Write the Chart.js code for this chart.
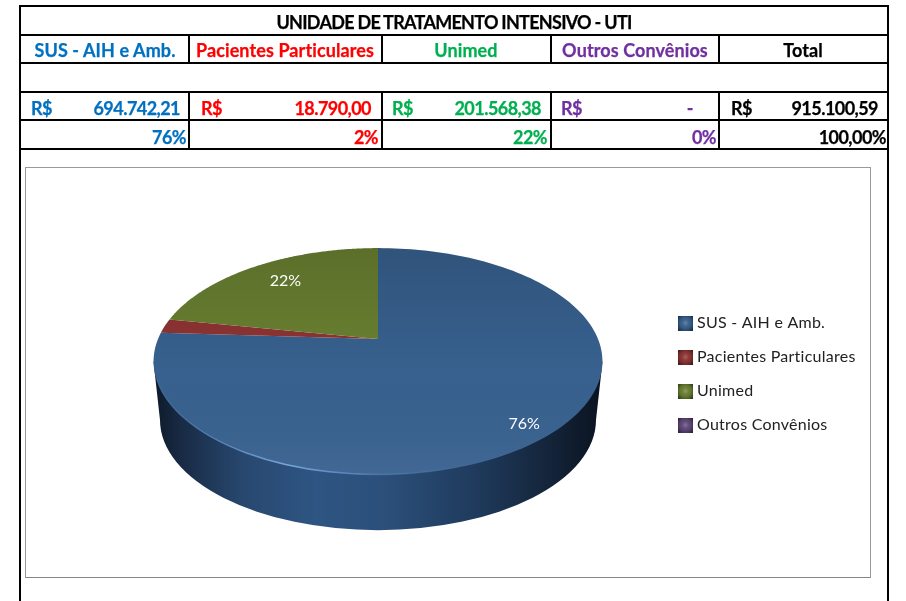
<!DOCTYPE html>
<html lang="pt-BR"><head><meta charset="utf-8">
<style>
html,body{margin:0;padding:0;background:#fff;width:906px;height:601px;overflow:hidden}
#page{position:relative;width:906px;height:601px;font-family:Lato,Carlito,sans-serif;font-weight:700}
.l{position:absolute;background:#000}
.t{position:absolute;white-space:nowrap;font-size:18px;line-height:24px;letter-spacing:-.55px;-webkit-text-stroke:.25px currentColor}
#frame{position:absolute;left:25px;top:167px;width:844px;height:409px;border:1px solid #9a9a9a;border-bottom-color:#858585;background:#fff}
canvas{position:absolute;left:0;top:0}
</style></head><body>
<div id="page"><div id="frame"></div><canvas id="c" width="906" height="601"></canvas></div>
<script src="https://cdn.jsdelivr.net/npm/chart.js@4/dist/chart.umd.js"></script>
<script>
const tableTitle = 'UNIDADE DE TRATAMENTO INTENSIVO - UTI';
const categories = ['SUS - AIH e Amb.', 'Pacientes Particulares', 'Unimed', 'Outros Convênios'];
const seriesValues = [694742.21, 18790.00, 201568.38, 0];
const valueTexts = ['694.742,21', '18.790,00', '201.568,38', '-'];
const percentTexts = ['76%', '2%', '22%', '0%'];
const totalHeader = 'Total';
const totalText = '915.100,59';
const totalPercent = '100,00%';
const currency = 'R$';
const textColors = ['#0070C0', '#FF0000', '#00B050', '#7030A0'];
const sliceColors = ['#38618F', '#8F3434', '#6A8131', '#60497A'];

/* ---------- table ---------- */
const page = document.getElementById('page');
function line(x, y, w, h) { const d = document.createElement('div'); d.className = 'l';
  d.style.cssText = `left:${x}px;top:${y}px;width:${w}px;height:${h}px`; page.insertBefore(d, page.firstChild); }
function text(s, color, y, opt) { const d = document.createElement('div'); d.className = 't'; d.textContent = s; d.style.color = color;
  d.style.top = y + 'px';
  if (opt.ls !== undefined) d.style.letterSpacing = opt.ls + 'px';
  if (opt.c !== undefined) { d.style.left = (opt.c - 200) + 'px'; d.style.width = '400px'; d.style.textAlign = 'center'; }
  if (opt.r !== undefined) { d.style.right = (906 - opt.r) + 'px'; }
  if (opt.l !== undefined) { d.style.left = opt.l + 'px'; }
  page.appendChild(d); }
line(19, 5, 2, 596); line(887, 5, 2, 596);
line(19, 5, 870, 2);
[34, 62, 91, 119, 148].forEach(y => line(19, y, 870, 2));
[188, 381, 550, 718].forEach(x => { line(x, 34, 2, 29); line(x, 91, 2, 58); });
const heads = [105, 285, 466, 635, 803];
const curL = [31, 201, 392, 561, 731];
const valR = [180, 371, 541, 693, 878];
const pctR = [186, 378, 547, 716, 886];
text(tableTitle, '#000', 10, { c: 454, ls: -0.72 });
categories.forEach((n, i) => {
  text(n, textColors[i], 38, { c: heads[i], ls: 0.1 });
  text(currency, textColors[i], 96, { l: curL[i] });
  text(valueTexts[i], textColors[i], 96, { r: valR[i] });
  text(percentTexts[i], textColors[i], 125, { r: pctR[i] });
});
text(totalHeader, '#000', 38, { c: heads[4], ls: 0.1 });
text(currency, '#000', 96, { l: curL[4] });
text(totalText, '#000', 96, { r: valR[4] });
text(totalPercent, '#000', 125, { r: pctR[4] });

/* ---------- tilted pie: the library computes angles, centre and radius ---------- */
const TILT = 0.495, PERSP = -0.198;
function project(el, a, rho) {
  const u = Math.cos(a) * rho, v = Math.sin(a) * rho, d = 1 + PERSP * v;
  return { x: el.x + el.outerRadius * u / d, y: el.y + el.outerRadius * TILT * v / d };
}
function rimEllipse(el) {
  return { cx: el.x, cy: el.y + el.outerRadius * 0.1023, rx: el.outerRadius * 1.0205, ry: el.outerRadius * 0.516 };
}
Chart.ArcElement.prototype.draw = function (ctx) {
  const el = this.getProps(['x', 'y', 'startAngle', 'endAngle', 'outerRadius'], true);
  if (this.endAngle - this.startAngle < 1e-4) return;
  const e = rimEllipse(el);
  ctx.save();
  ctx.beginPath();
  ctx.moveTo(el.x, el.y);
  const steps = 160;
  for (let i = 0; i <= steps; i++) {
    const p = project(el, el.startAngle + (el.endAngle - el.startAngle) * i / steps, 1);
    ctx.lineTo(p.x, p.y);
  }
  ctx.closePath();
  ctx.fillStyle = this.options.backgroundColor;
  ctx.fill();
  const g = ctx.createLinearGradient(0, e.cy - e.ry, 0, e.cy + e.ry);
  g.addColorStop(0, 'rgba(0,0,0,.14)');
  g.addColorStop(.55, 'rgba(0,0,0,0)');
  g.addColorStop(1, 'rgba(255,255,255,.05)');
  ctx.fillStyle = g;
  ctx.fill();
  ctx.restore();
};
const pie3d = {
  id: 'pie3d',
  afterLayout(chart) {
    const lg = chart.legend, h = lg.bottom - lg.top, w = lg.right - lg.left;
    lg.left = 664; lg.right = 664 + w; lg.top = 297; lg.bottom = 297 + h;
  },
  beforeDraw(chart) { chart.ctx.letterSpacing = '0.25px'; },
  beforeDatasetsDraw(chart) {
    const el = chart.getDatasetMeta(0).data[0], ctx = chart.ctx, e = rimEllipse(el);
    const scale = 0.971, drop = 58.5, rx2 = e.rx * scale, ry2 = e.ry * scale, cy2 = e.cy + drop;
    ctx.save();
    const g = ctx.createLinearGradient(e.cx - e.rx, 0, e.cx + e.rx, 0);
    [[0, '#0d1929'], [.06, '#182a44'], [.2, '#28486f'], [.36, '#2e5583'], [.52, '#2b4f79'], [.72, '#1f3a5c'], [.87, '#15263c'], [1, '#0a1320']]
      .forEach(s => g.addColorStop(s[0], s[1]));
    ctx.fillStyle = g;
    ctx.beginPath();
    ctx.moveTo(e.cx - e.rx, e.cy);
    ctx.lineTo(e.cx - rx2, cy2);
    ctx.ellipse(e.cx, cy2, rx2, ry2, 0, Math.PI, 0, true);
    ctx.lineTo(e.cx + e.rx, e.cy);
    ctx.closePath();
    ctx.fill();
    ctx.restore();
  },
  afterDatasetsDraw(chart) {
    const meta = chart.getDatasetMeta(0), ctx = chart.ctx, el = meta.data[0], e = rimEllipse(el);
    ctx.save();
    const g = ctx.createLinearGradient(e.cx - e.rx, 0, e.cx + e.rx, 0);
    g.addColorStop(0, 'rgba(110,160,220,.1)');
    g.addColorStop(.3, 'rgba(130,180,235,.85)');
    g.addColorStop(.5, 'rgba(110,160,220,.3)');
    g.addColorStop(.85, 'rgba(80,120,170,0)');
    ctx.strokeStyle = g; ctx.lineWidth = 1.5;
    ctx.beginPath();
    ctx.ellipse(e.cx, e.cy, e.rx - .5, e.ry - .5, 0, Math.PI * .95, Math.PI * .2, true);
    ctx.stroke();
    const total = seriesValues.reduce((a, b) => a + b, 0);
    ctx.letterSpacing = '0px';
    ctx.fillStyle = '#fff'; ctx.font = '400 16px Lato, sans-serif';
    ctx.textAlign = 'center'; ctx.textBaseline = 'middle';
    meta.data.forEach((arc, i) => {
      const share = seriesValues[i] / total;
      if (share < 0.05) return;
      const mid = (arc.startAngle + arc.endAngle) / 2;
      const p = project(arc, mid, 0.85);
      ctx.fillText(Math.round(share * 100) + '%', p.x + (i === 0 ? 0 : 13), p.y + (i === 0 ? 8 : 5));
    });
    ctx.restore();
  }
};
function swatch(color) {
  const c = document.createElement('canvas'); c.width = 15; c.height = 15;
  const x = c.getContext('2d');
  x.fillStyle = color; x.fillRect(0, 0, 15, 15);
  const g = x.createRadialGradient(7.5, 7.5, 1, 7.5, 7.5, 10);
  g.addColorStop(0, 'rgba(255,255,255,.18)'); g.addColorStop(.5, 'rgba(0,0,0,.05)'); g.addColorStop(1, 'rgba(0,0,0,.55)');
  x.fillStyle = g; x.fillRect(0, 0, 15, 15);
  return c;
}
new Chart(document.getElementById('c'), {
  type: 'pie',
  data: { labels: categories, datasets: [{ data: seriesValues, backgroundColor: sliceColors, borderWidth: 0 }] },
  options: {
    responsive: false, animation: false,
    layout: { padding: { left: 158, right: 308, top: 119, bottom: 42 } },
    plugins: {
      tooltip: { enabled: false },
      legend: {
        position: 'chartArea', align: 'start',
        labels: {
          usePointStyle: true, boxWidth: 7, padding: 18, color: '#222',
          font: { family: 'Lato, sans-serif', size: 16, weight: '400' },
          generateLabels: () => categories.map((n, i) => ({ text: n, pointStyle: swatch(sliceColors[i]), fontColor: '#222', index: i, lineWidth: 0 }))
        }
      }
    }
  },
  plugins: [pie3d]
});
</script>
</body></html>
